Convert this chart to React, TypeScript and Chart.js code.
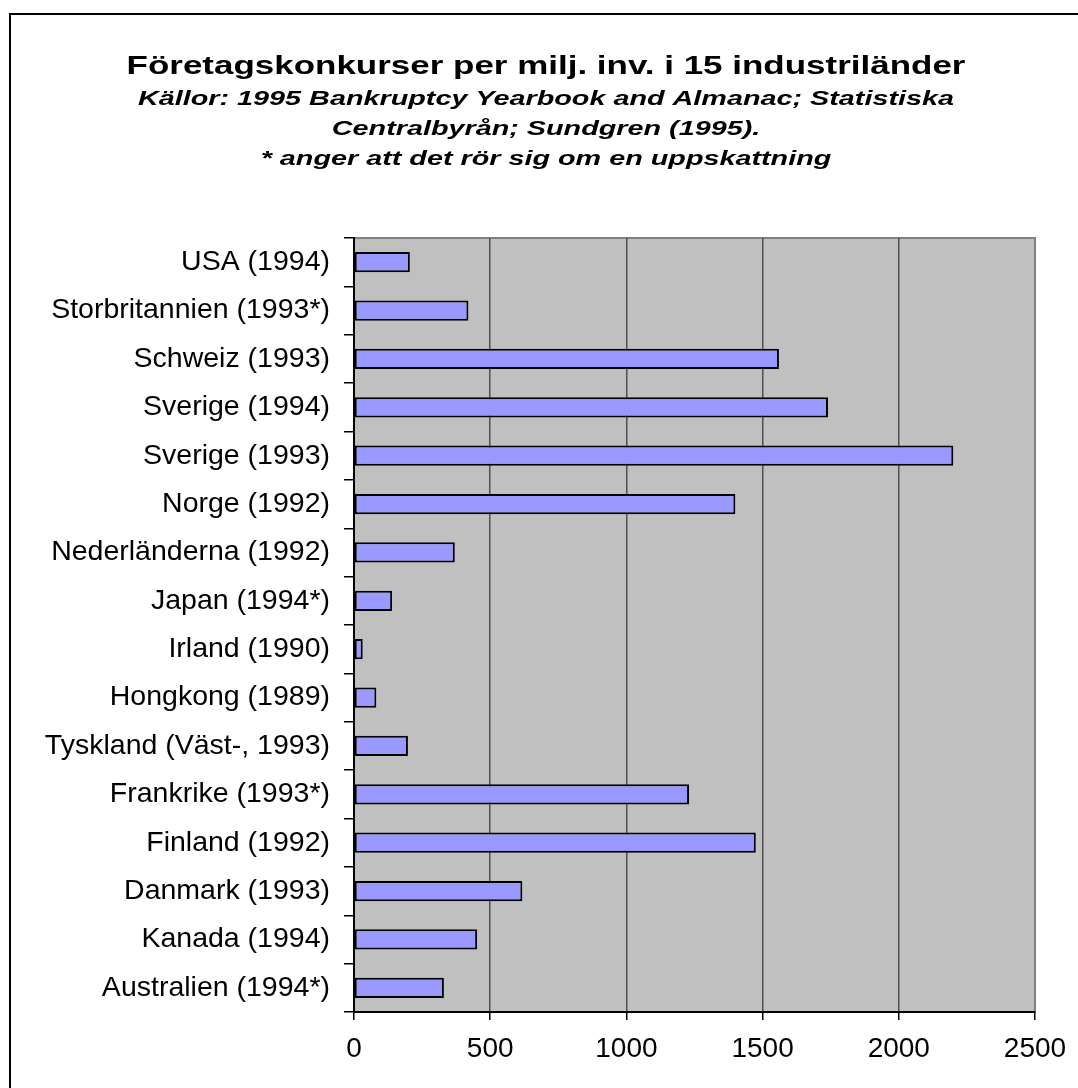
import React, { useEffect, useRef } from 'react';
import { Chart, registerables } from 'chart.js';

Chart.register(...registerables);

const categories = [
  'USA (1994)',
  'Storbritannien (1993*)',
  'Schweiz (1993)',
  'Sverige (1994)',
  'Sverige (1993)',
  'Norge (1992)',
  'Nederländerna (1992)',
  'Japan (1994*)',
  'Irland (1990)',
  'Hongkong (1989)',
  'Tyskland (Väst-, 1993)',
  'Frankrike (1993*)',
  'Finland (1992)',
  'Danmark (1993)',
  'Kanada (1994)',
  'Australien (1994*)',
];

const values = [205, 420, 1560, 1740, 2200, 1400, 370, 140, 32, 82, 198, 1230, 1475, 618, 452, 330];

const xTicks = [0, 500, 1000, 1500, 2000, 2500];

const titleText = 'Företagskonkurser per milj. inv. i 15 industriländer';
const subtitleLines = [
  'Källor: 1995 Bankruptcy Yearbook and Almanac; Statistiska',
  'Centralbyrån; Sundgren (1995).',
  '* anger att det rör sig om en uppskattning',
];

// The reference's heading text is rendered horizontally wide; stretch bold text.
const stretchPlugin = {
  id: 'stretchBold',
  beforeInit(chart: any) {
    const ctx = chart.ctx;
    const orig = ctx.fillText.bind(ctx);
    ctx.fillText = (text: string, x: number, y: number, maxWidth?: number) => {
      const f = String(ctx.font);
      if (/bold|700/.test(f)) {
        const s = /italic/.test(f) ? 1.37 : 1.345;
        ctx.save();
        ctx.translate(x, y);
        ctx.scale(s, 1);
        orig(text, 0, 0);
        ctx.restore();
      } else if (maxWidth === undefined) {
        orig(text, x, y);
      } else {
        orig(text, x, y, maxWidth);
      }
    };
  },
};

const plotBgPlugin = {
  id: 'plotBg',
  beforeDraw(chart: any) {
    const { ctx, chartArea: a } = chart;
    ctx.save();
    ctx.fillStyle = '#c0c0c0';
    ctx.fillRect(a.left, a.top, a.right - a.left, a.bottom - a.top);
    ctx.strokeStyle = '#808080';
    ctx.lineWidth = 2;
    ctx.strokeRect(a.left, a.top, a.right - a.left, a.bottom - a.top);
    ctx.restore();
  },
};

export default function App() {
  const ref = useRef<HTMLCanvasElement | null>(null);

  useEffect(() => {
    document.documentElement.style.background = '#ffffff';
    document.body.style.background = '#ffffff';
    document.body.style.overflow = 'hidden';
    if (!ref.current) return;
    Chart.defaults.font.family = '"Liberation Sans", Arial, sans-serif';
    const chart = new Chart(ref.current, {
      type: 'bar',
      data: {
        labels: categories,
        datasets: [
          {
            data: values,
            xAxisID: 'x',
            yAxisID: 'y',
            backgroundColor: '#9999ff',
            borderColor: '#000000',
            borderWidth: 2,
            borderSkipped: false,
            barPercentage: 0.42,
            categoryPercentage: 1,
          },
        ],
      },
      plugins: [stretchPlugin, plotBgPlugin],
      options: {
        indexAxis: 'y',
        animation: false,
        responsive: false,
        layout: { padding: { left: 0, right: 0, top: 0, bottom: 0 } },
        plugins: {
          legend: { display: false },
          tooltip: { enabled: false },
          title: {
            display: true,
            text: titleText,
            color: '#000',
            font: { size: 26, weight: 'bold', lineHeight: 1.2 },
            padding: { top: 36, bottom: 0 },
          },
          subtitle: {
            display: true,
            text: subtitleLines,
            color: '#000',
            font: { size: 21, weight: 'bold', style: 'italic', lineHeight: 30 / 21 },
            padding: { top: 2.4, bottom: 63.4 },
          },
        },
        scales: {
          y: {
            type: 'category',
            position: 'left',
            afterFit: (s: any) => {
              s.width = 343;
            },
            ticks: {
              color: '#000',
              font: { size: 28.5 },
              padding: 14,
              autoSkip: false,
            },
            grid: {
              drawOnChartArea: false,
              color: '#000',
              tickLength: 10,
              lineWidth: 1.5,
              offset: true,
            },
            border: { color: '#000', width: 2 },
          },
          x: {
            type: 'linear',
            position: 'bottom',
            min: 0,
            max: 2500,
            afterBuildTicks: (s: any) => {
              s.ticks = xTicks.map((v) => ({ value: v }));
            },
            afterFit: (s: any) => {
              s.height = 76;
            },
            ticks: {
              color: '#000',
              font: { size: 28 },
              padding: 12,
              maxRotation: 0,
              autoSkip: false,
              callback: (v: any) => String(v),
            },
            grid: {
              color: (c: any) => (c.tick && c.tick.value === 2500 ? '#808080' : '#505050'),
              lineWidth: 1.5,
              tickColor: '#000',
              tickLength: 8,
            },
            border: { color: '#000', width: 2 },
          },
          rightSpace: {
            type: 'linear',
            axis: 'y',
            position: 'right',
            display: true,
            ticks: { display: false },
            grid: { display: false, drawTicks: false },
            border: { display: false },
            afterFit: (s: any) => {
              s.width = 46;
            },
          },
        },
      } as any,
    });
    return () => chart.destroy();
  }, []);

  return (
    <div
      style={{
        position: 'fixed',
        left: 0,
        top: 0,
        width: 1200,
        height: 1200,
        overflow: 'hidden',
        background: '#ffffff',
      }}
    >
      <div
        style={{
          position: 'absolute',
          left: 9,
          top: 13,
          width: 1150,
          height: 1150,
          borderLeft: '2px solid #000',
          borderTop: '2px solid #000',
          background: '#ffffff',
        }}
      >
        <canvas ref={ref} width={1070} height={1073} style={{ display: 'block', width: 1070, height: 1073 }} />
      </div>
    </div>
  );
}
